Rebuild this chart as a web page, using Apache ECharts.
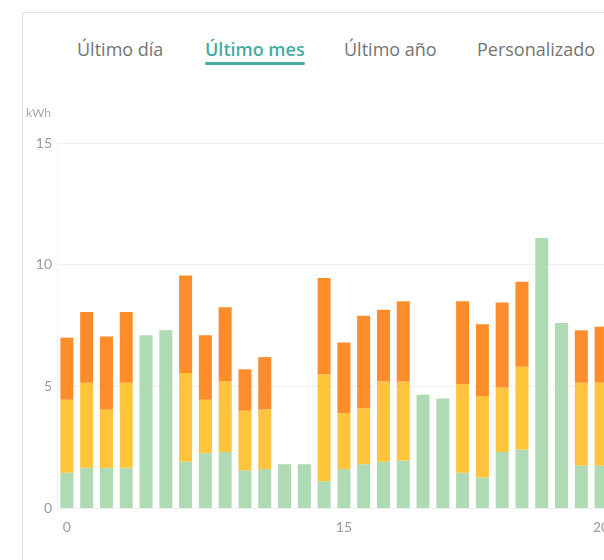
<!DOCTYPE html>
<html>
<head>
<meta charset="utf-8">
<script src="https://cdn.jsdelivr.net/npm/echarts@6/dist/echarts.min.js"></script>
<style>
  html, body { margin: 0; padding: 0; background: #fff; }
  body { width: 604px; height: 560px; overflow: hidden; position: relative; font-family: 'Open Sans', Lato, sans-serif; }
  .card { position: absolute; left: 22px; top: 12px; width: 700px; height: 700px; border-left: 1px solid #e2e2e2; border-top: 1px solid #e2e2e2; }
  .tab { position: absolute; top: 39px; font-size: 18px; line-height: 20px; color: #747474; white-space: nowrap; }
  .tab.active { color: #45ad9f; font-weight: 600; }
  .tab.active::after { content: ''; position: absolute; left: 0; right: 0; top: 23px; height: 3px; border-radius: 2px; background: #45ad9f; }
  #chart { position: absolute; left: 0; top: 80px; width: 620px; height: 480px; }
</style>
</head>
<body>
<div class="card"></div>
<div class="tab" style="left:77px">Último día</div>
<div class="tab active" style="left:205px">Último mes</div>
<div class="tab" style="left:344px">Último año</div>
<div class="tab" style="left:477px">Personalizado</div>
<div id="chart"></div>
<script>
const days = ['0', '', '', '', '', '', '', '', '', '', '', '', '', '', '15', '', '', '', '', '', '', '', '', '', '', '', '', '20'];

// kWh per day, stacked bottom to top
const greenPart = [1.45, 1.65, 1.65, 1.65, 7.1, 7.3, 1.9, 2.25, 2.3, 1.55, 1.6, 1.8, 1.8, 1.1, 1.6, 1.8, 1.9, 1.95, 4.65, 4.5, 1.45, 1.25, 2.3, 2.4, 11.1, 7.6, 1.75, 1.75];
const yellowPart = [3.0, 3.5, 2.4, 3.5, 0, 0, 3.65, 2.2, 2.9, 2.45, 2.45, 0, 0, 4.4, 2.3, 2.3, 3.3, 3.25, 0, 0, 3.65, 3.35, 2.65, 3.4, 0, 0, 3.4, 3.4];
const orangePart = [2.55, 2.9, 3.0, 2.9, 0, 0, 4.0, 2.65, 3.05, 1.7, 2.15, 0, 0, 3.95, 2.9, 3.8, 2.95, 3.3, 0, 0, 3.4, 2.95, 3.5, 3.5, 0, 0, 2.15, 2.3];

const yTicks = [0, 5, 10, 15];

const chart = echarts.init(document.getElementById('chart'));

const barStyle = (color, data, name) => ({
  name: name,
  type: 'bar',
  stack: 'total',
  barWidth: 13,
  itemStyle: { color: color },
  data: data
});

chart.setOption({
  animation: false,
  grid: { left: 57, right: 9, top: 63, bottom: 52, containLabel: false },
  xAxis: {
    type: 'category',
    data: days,
    axisLine: { show: true, lineStyle: { color: '#f0f0f0' } },
    axisTick: { show: false },
    axisLabel: { interval: 0, color: '#9a9a9a', fontSize: 14, margin: 12, fontFamily: 'Lato' }
  },
  yAxis: {
    type: 'value',
    min: yTicks[0],
    max: yTicks[yTicks.length - 1],
    interval: 5,
    name: 'kWh',
    nameGap: 24,
    nameTextStyle: { color: '#a8a8a8', fontSize: 12, align: 'right', padding: [0, 6, 0, 0], fontFamily: 'Lato' },
    axisLine: { show: true, lineStyle: { color: '#f0f0f0' } },
    axisTick: { show: false },
    axisLabel: { color: '#9a9a9a', fontSize: 14, margin: 5, fontFamily: 'Lato' },
    splitLine: { lineStyle: { color: '#efefef' } }
  },
  series: [
    barStyle('#aedbb3', greenPart, 'green'),
    barStyle('#fec43c', yellowPart, 'yellow'),
    barStyle('#fd8c2b', orangePart, 'orange')
  ]
});
</script>
</body>
</html>
